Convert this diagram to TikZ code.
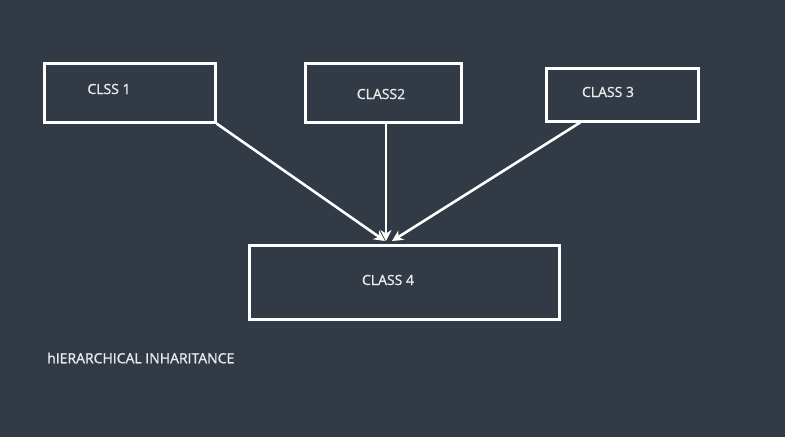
\documentclass[tikz,border=0pt]{standalone}
\usepackage{fontspec}
\setmainfont{Open Sans}[AutoFakeBold=1.2]
\usetikzlibrary{arrows.meta, calc}
\definecolor{bgslate}{HTML}{323A45}
\tikzset{
  classbox/.style={draw=white, line width=3pt, inner sep=0pt},
  classtext/.style={text=white!92!black, font=\fontsize{14}{16}\selectfont\bfseries, inner sep=0pt},
  inherit/.style={draw=white, line width=2.6pt, -{Stealth[length=11pt, width=11pt]}}
}
\begin{document}
\begin{tikzpicture}[x=1pt, y=-1pt]
  \fill[bgslate] (0,0) rectangle (785,437);
  \useasboundingbox (0,0) rectangle (785,437);
  % class boxes
  \node[classbox, minimum width=171pt, minimum height=59pt] (c1) at (129.5,92.5) {};
  \node[classbox, minimum width=156pt, minimum height=59pt] (c2) at (383,92.5) {};
  \node[classbox, minimum width=152pt, minimum height=53pt] (c3) at (622,94.5) {};
  \node[classbox, minimum width=310pt, minimum height=74pt] (c4) at (404,282) {};
  % box texts
  \node[classtext] (t1) at (109,89) {CLSS 1};
  \node[classtext] (t2) at (381,94) {CLASS2};
  \node[classtext] (t3) at (608,92) {CLASS 3};
  \node[classtext] (t4) at (388,280) {CLASS 4};
  \node[classtext, anchor=west] (title) at (47,358) {hIERARCHICAL INHARITANCE};
  % arrow tips
  \coordinate (tipa) at (385,241);
  \coordinate (tipb) at (386,241);
  \coordinate (tipc) at (392,241);
  \draw[inherit] (c1.south east) -- (tipa);
  \draw[inherit] (c2.south -| tipb) -- (tipb);
  \draw[inherit] ($(c3.south west)!0.23!(c3.south east)$) -- (tipc);
\end{tikzpicture}
\end{document}
